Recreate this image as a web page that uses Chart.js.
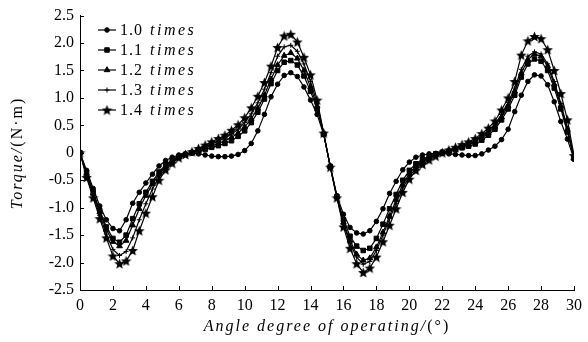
<!DOCTYPE html>
<html>
<head>
<meta charset="utf-8">
<script src="https://cdn.jsdelivr.net/npm/chart.js@4"></script>
<style>
html,body{margin:0;padding:0;background:#fff;}
#wrap{width:588px;height:342px;position:relative;}
</style>
</head>
<body>
<div id="wrap"><canvas id="c" width="588" height="342"></canvas></div>
<script>
// ---- data ----
const angles = [0,0.4,0.8,1.2,1.6,2.0,2.4,2.8,3.2,3.6,4.0,4.4,4.8,5.2,5.6,6.0,6.4,6.8,7.2,7.6,8.0,8.4,8.8,9.2,9.6,10.0,10.4,10.8,11.2,11.6,12.0,12.4,12.8,13.2,13.6,14.0,14.4,14.8,
  15.2,15.6,16.0,16.4,16.8,17.2,17.6,18.0,18.4,18.8,19.2,19.6,20.0,20.4,20.8,21.2,21.6,22.0,22.4,22.8,23.2,23.6,24.0,24.4,24.8,25.2,25.6,26.0,26.4,26.8,27.2,27.6,28.0,28.4,28.8,29.2,29.6,30.0];

const seriesNames = ['1.0', '1.1', '1.2', '1.3', '1.4'];
const seriesUnit = 'times';

const torque10 = [0,-0.32,-0.65,-0.97,-1.22,-1.38,-1.42,-1.22,-0.92,-0.72,-0.55,-0.39,-0.24,-0.14,-0.08,-0.04,-0.02,-0.01,-0.02,-0.04,-0.06,-0.07,-0.07,-0.06,-0.03,0.04,0.17,0.4,0.7,1.02,1.25,1.41,1.46,1.39,1.2,0.96,0.7,0.33,
  -0.24,-0.78,-1.12,-1.36,-1.46,-1.48,-1.42,-1.25,-1.02,-0.74,-0.52,-0.31,-0.17,-0.08,-0.04,-0.02,-0.01,-0.01,-0.02,-0.03,-0.04,-0.05,-0.05,-0.02,0.05,0.12,0.24,0.43,0.75,1.05,1.3,1.42,1.4,1.24,0.93,0.57,0.25,-0.12];
const torque11 = [0,-0.36,-0.71,-1.05,-1.35,-1.56,-1.63,-1.5,-1.2,-0.93,-0.72,-0.52,-0.35,-0.22,-0.13,-0.07,-0.03,0.0,0.03,0.06,0.1,0.13,0.17,0.22,0.3,0.4,0.55,0.74,0.98,1.26,1.5,1.65,1.68,1.6,1.4,1.12,0.8,0.34,
  -0.25,-0.8,-1.22,-1.52,-1.7,-1.78,-1.74,-1.56,-1.3,-1.02,-0.76,-0.5,-0.32,-0.2,-0.12,-0.06,-0.02,0.01,0.03,0.06,0.09,0.12,0.16,0.23,0.32,0.43,0.6,0.8,1.05,1.38,1.62,1.71,1.67,1.5,1.18,0.8,0.38,-0.1];
const torque12 = [0,-0.38,-0.74,-1.08,-1.4,-1.62,-1.7,-1.6,-1.32,-1.02,-0.78,-0.57,-0.39,-0.25,-0.15,-0.08,-0.03,0.01,0.05,0.09,0.13,0.17,0.22,0.28,0.36,0.47,0.62,0.81,1.05,1.34,1.6,1.77,1.82,1.72,1.5,1.2,0.85,0.35,
  -0.25,-0.8,-1.27,-1.6,-1.85,-1.96,-1.92,-1.72,-1.45,-1.15,-0.86,-0.58,-0.38,-0.24,-0.15,-0.08,-0.03,0.01,0.04,0.08,0.11,0.15,0.2,0.27,0.36,0.48,0.65,0.86,1.12,1.45,1.7,1.8,1.76,1.58,1.25,0.86,0.42,-0.09];
const torque13 = [0,-0.42,-0.78,-1.14,-1.48,-1.76,-1.87,-1.8,-1.55,-1.22,-0.93,-0.66,-0.44,-0.28,-0.17,-0.09,-0.03,0.01,0.06,0.11,0.16,0.21,0.27,0.34,0.43,0.55,0.71,0.91,1.16,1.46,1.76,1.93,1.96,1.85,1.62,1.3,0.9,0.35,
  -0.26,-0.81,-1.3,-1.65,-1.9,-2.03,-1.98,-1.78,-1.5,-1.2,-0.92,-0.64,-0.43,-0.28,-0.18,-0.1,-0.04,0.0,0.04,0.09,0.13,0.17,0.22,0.3,0.4,0.52,0.7,0.92,1.18,1.52,1.76,1.84,1.8,1.62,1.3,0.9,0.45,-0.08];
const torque14 = [0,-0.45,-0.82,-1.2,-1.55,-1.88,-2.02,-1.97,-1.78,-1.42,-1.1,-0.8,-0.5,-0.31,-0.19,-0.09,-0.03,0.02,0.08,0.14,0.2,0.26,0.32,0.41,0.51,0.64,0.82,1.03,1.28,1.58,1.92,2.13,2.16,2.02,1.74,1.42,0.96,0.36,
  -0.26,-0.82,-1.35,-1.74,-2.02,-2.18,-2.1,-1.9,-1.62,-1.32,-1.02,-0.72,-0.48,-0.32,-0.21,-0.13,-0.06,0.0,0.05,0.1,0.15,0.2,0.26,0.35,0.45,0.58,0.78,1.0,1.3,1.78,2.04,2.12,2.08,1.88,1.5,1.08,0.6,-0.05];

const xTickLabels = ['0','2','4','6','8','10','12','14','16','18','20','22','24','26','28','30'];
const yTickLabels = ['-2.5','-2.0','-1.5','-1.0','-0.5','0','0.5','1.0','1.5','2.0','2.5'];

// ---- styles ----
const SERIF = "'Liberation Serif', 'DejaVu Serif', serif";
function makeStar(size){
  const c = document.createElement('canvas');
  c.width = size; c.height = size;
  const g = c.getContext('2d');
  g.fillStyle = '#000';
  g.beginPath();
  const R = size/2, r = R*0.45;
  for (let k=0;k<10;k++){
    const a = -Math.PI/2 + k*Math.PI/5;
    const rad = (k%2) ? r : R;
    g.lineTo(R + rad*Math.cos(a), R + 0.5 + rad*Math.sin(a));
  }
  g.closePath(); g.fill();
  return c;
}
const starImg = makeStar(11);

const styles = [
  {pointStyle:'circle', radius:2.3, borderWidth:1},
  {pointStyle:'rect', radius:3.2, borderWidth:1},
  {pointStyle:'triangle', radius:3.3, borderWidth:1},
  {pointStyle:'cross', radius:2.5, borderWidth:1},
  {pointStyle:starImg, radius:5, borderWidth:1}
];
const allSeries = [torque10, torque11, torque12, torque13, torque14];

const datasets = allSeries.map((vals, i) => ({
  label: seriesNames[i] + ' ' + seriesUnit,
  data: angles.map((a, j) => ({x: a, y: vals[j]})),
  borderColor: '#000',
  backgroundColor: '#000',
  borderWidth: 1.2,
  pointStyle: styles[i].pointStyle,
  pointRadius: styles[i].radius,
  pointBorderWidth: styles[i].borderWidth,
  pointBackgroundColor: '#000',
  pointBorderColor: '#000',
  tension: 0,
  fill: false
}));

const deco = {
  id: 'deco',
  afterDraw(chart){
    const ctx = chart.ctx, xs = chart.scales.x, ys = chart.scales.y, ca = chart.chartArea;
    ctx.save();
    ctx.strokeStyle = '#000'; ctx.lineWidth = 1;
    ctx.beginPath();
    ys.ticks.forEach(t => { const y = Math.round(ys.getPixelForValue(t.value)) + 0.5; ctx.moveTo(ca.left, y); ctx.lineTo(ca.left + 4, y); });
    xs.ticks.forEach(t => { const x = Math.round(xs.getPixelForValue(t.value)) + 0.5; ctx.moveTo(x, ca.bottom); ctx.lineTo(x, ca.bottom - 4); });
    ctx.stroke();

    // legend
    const lx = 98, ly = 30, step = 20;
    ctx.fillStyle = '#000';
    ctx.textBaseline = 'middle';
    chart.data.datasets.forEach((ds, i) => {
      const y = ly + i*step;
      ctx.beginPath(); ctx.lineWidth = 1.2; ctx.strokeStyle = '#000';
      ctx.moveTo(lx, y); ctx.lineTo(lx + 18, y); ctx.stroke();
      ctx.lineWidth = styles[i].borderWidth;
      if (Chart.helpers && Chart.helpers.drawPoint) {
        Chart.helpers.drawPoint(ctx, {pointStyle: styles[i].pointStyle, radius: styles[i].radius, rotation: 0, borderWidth: styles[i].borderWidth}, lx + 9, y);
      }
      ctx.fillStyle = '#000';
      ctx.textAlign = 'left';
      ctx.letterSpacing = '1px';
      ctx.font = '16px ' + SERIF;
      ctx.fillText(seriesNames[i], 120, y + 1);
      ctx.letterSpacing = '2.5px';
      ctx.font = 'italic 16px ' + SERIF;
      ctx.fillText(seriesUnit, 150, y + 1);
    });

    // x title
    ctx.letterSpacing = '2px';
    const xt1 = 'Angle degree of operating/';
    const xt2 = '(°)';
    ctx.font = 'italic 16px ' + SERIF;
    const w1 = ctx.measureText(xt1).width;
    ctx.font = '16px ' + SERIF;
    const w2 = ctx.measureText(xt2).width;
    let sx = (ca.left + ca.right)/2 - (w1 + w2)/2;
    ctx.textAlign = 'left'; ctx.textBaseline = 'middle';
    ctx.font = 'italic 16px ' + SERIF;
    ctx.fillText(xt1, sx, 327);
    ctx.font = '16px ' + SERIF;
    ctx.fillText(xt2, sx + w1, 327);

    // y title
    ctx.save();
    ctx.translate(18, 153);
    ctx.rotate(-Math.PI/2);
    const yt1 = 'Torque/';
    const yt2 = '(N·m)';
    ctx.font = 'italic 16px ' + SERIF;
    const v1 = ctx.measureText(yt1).width;
    ctx.font = '16px ' + SERIF;
    const v2 = ctx.measureText(yt2).width;
    let sy = -(v1 + v2)/2;
    ctx.font = 'italic 16px ' + SERIF;
    ctx.fillText(yt1, sy, 0);
    ctx.font = '16px ' + SERIF;
    ctx.fillText(yt2, sy + v1, 0);
    ctx.restore();

    ctx.restore();
  }
};

new Chart(document.getElementById('c'), {
  type: 'line',
  data: { datasets },
  plugins: [deco],
  options: {
    responsive: false,
    animation: false,
    devicePixelRatio: 1,
    layout: { padding: { left: 0, right: 14, top: 15, bottom: 0 } },
    plugins: { legend: { display: false }, tooltip: { enabled: false } },
    scales: {
      x: {
        type: 'linear', min: 0, max: 30,
        grid: { display: false, drawTicks: false },
        border: { display: true, color: '#000', width: 1 },
        ticks: {
          stepSize: 2, padding: 6, color: '#000', maxRotation: 0, autoSkip: false,
          font: { family: SERIF, size: 16 },
          callback: (v, i) => xTickLabels[i]
        },
        afterFit: s => { s.height = 52; }
      },
      y: {
        type: 'linear', min: -2.5, max: 2.5,
        grid: { display: false, drawTicks: false },
        border: { display: true, color: '#000', width: 1 },
        ticks: {
          stepSize: 0.5, padding: 6, color: '#000', autoSkip: false,
          font: { family: SERIF, size: 16 },
          callback: (v, i) => yTickLabels[i]
        },
        afterFit: s => { s.width = 80; }
      }
    }
  }
});
</script>
</body>
</html>
